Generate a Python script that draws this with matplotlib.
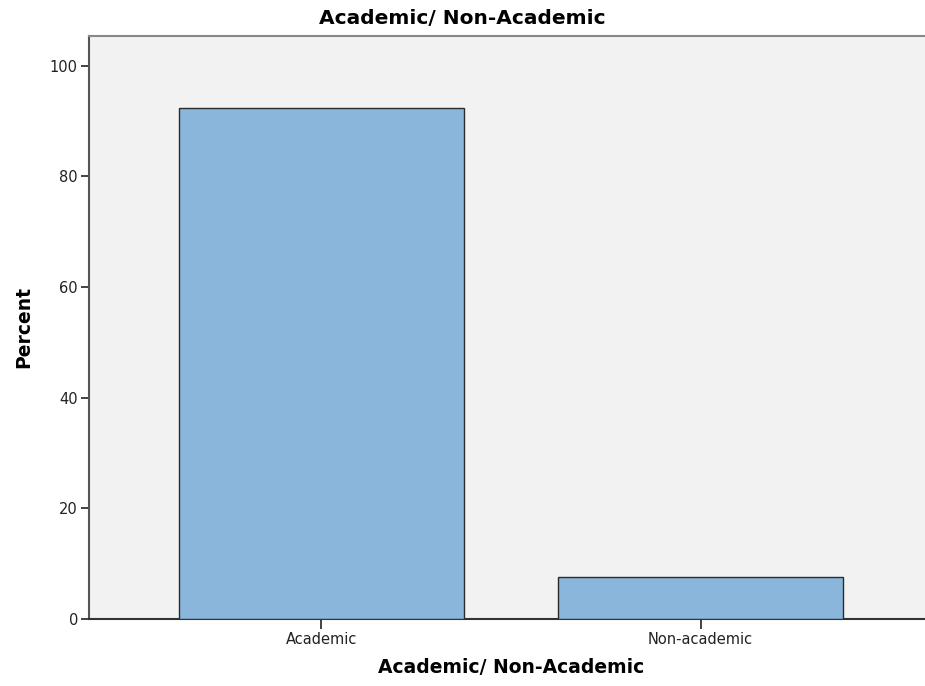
import matplotlib.pyplot as plt

categories = ['Academic', 'Non-academic']
percents = [92.4, 7.6]
y_ticks = [0, 20, 40, 60, 80, 100]

fig = plt.figure(figsize=(9.25, 6.86), dpi=100)
ax = fig.add_axes([89 / 925, 67 / 686, 844 / 925, 583 / 686])
ax.set_facecolor('#f2f2f2')

x = list(range(len(categories)))
ax.bar(x, percents, width=0.751, color='#8ab6db', edgecolor='#2b2b2b', linewidth=1.0, zorder=3)

ax.set_xlim(-0.6126, 1.6126)
ax.set_ylim(0, 105.4)
ax.set_yticks(y_ticks)
ax.set_xticks(x)
ax.set_xticklabels(categories)
ax.tick_params(axis='both', labelsize=10.5, colors='#222222', length=6, width=1.2, pad=2)
ax.tick_params(axis='x', length=7)

ax.spines['right'].set_visible(False)
ax.spines['top'].set_color('#888888')
ax.spines['top'].set_linewidth(1.5)
ax.spines['left'].set_color('#555555')
ax.spines['left'].set_linewidth(1.5)
ax.spines['bottom'].set_color('#333333')
ax.spines['bottom'].set_linewidth(1.5)

ax.set_ylabel('Percent', fontsize=13.5, fontweight='bold', labelpad=12)
ax.set_xlabel('Academic/ Non-Academic', fontsize=13.5, fontweight='bold', labelpad=8)
fig.text(0.5, 1 - 19 / 686, 'Academic/ Non-Academic', ha='center', va='center',
         fontsize=14.5, fontweight='bold')

fig.savefig('out.png', dpi=100)
